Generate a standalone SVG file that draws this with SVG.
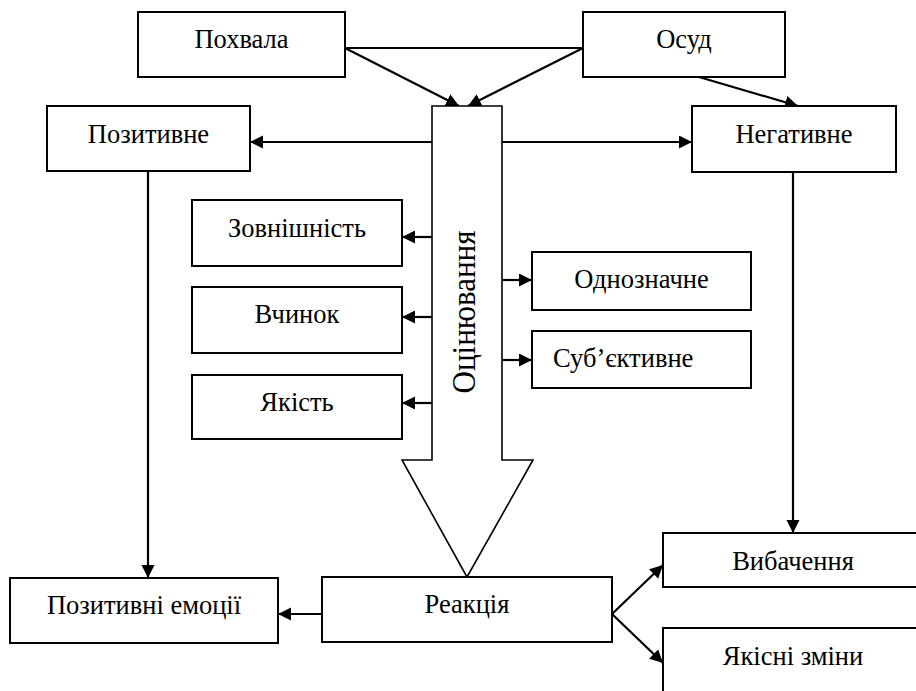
<svg xmlns="http://www.w3.org/2000/svg" width="916" height="691" viewBox="0 0 916 691" font-family="'Liberation Serif', 'Times New Roman', serif">
<style>
.box{fill:#fff;stroke:#000;stroke-width:2}
text{font-family:'Liberation Serif','Times New Roman',serif}
.t{font-size:26.5px;fill:#000;text-anchor:middle}
.c{fill:none;stroke:#000;stroke-width:2.2}
.a{marker-end:url(#ah)}
</style>
<defs>
<marker id="ah" markerUnits="userSpaceOnUse" markerWidth="14" markerHeight="14" refX="13" refY="6.5" orient="auto">
<path d="M0,0 L13,6.5 L0,13 Z" fill="#000"/>
</marker>
</defs>
<rect width="916" height="691" fill="#fff"/>
<g id="connectors">
<path class="c" d="M345,48 L583,48"/>
<path class="c a" d="M345,48 L459,106"/>
<path class="c a" d="M583,48 L468,106"/>
<path class="c a" d="M699,77 L798,106"/>
<path class="c a" d="M432,142 L250,142"/>
<path class="c a" d="M502,142 L692,142"/>
<path class="c a" d="M148,171 L148,578"/>
<path class="c a" d="M793,172 L793,533"/>
<path class="c a" d="M432,237 L402,237"/>
<path class="c a" d="M432,317 L402,317"/>
<path class="c a" d="M432,403 L402,403"/>
<path class="c a" d="M502,280 L532,280"/>
<path class="c a" d="M502,360 L532,360"/>
<path class="c a" d="M322,614 L278,614"/>
<path class="c a" d="M612,614 L663,565"/>
<path class="c a" d="M612,614 L663,663"/>
</g>
<g id="ocinyuvannya">
<polygon points="432,106 502,106 502,460 533,460 467,577 402,460 432,460" fill="#fff" stroke="#000" stroke-width="1.6"/>
<text class="t" style="font-size:34px" textLength="163" lengthAdjust="spacingAndGlyphs" transform="translate(475,312) rotate(-90)">Оцінювання</text>
</g>
<g id="pokhvala"><rect class="box" x="138" y="12" width="207" height="65"/><text class="t" x="241.5" y="48">Похвала</text></g>
<g id="osud"><rect class="box" x="583" y="12" width="202" height="65"/><text class="t" x="684" y="48">Осуд</text></g>
<g id="pozytyvne"><rect class="box" x="47" y="106" width="203" height="65"/><text class="t" x="148.5" y="143">Позитивне</text></g>
<g id="negatyvne"><rect class="box" x="692" y="106" width="204" height="66"/><text class="t" x="794" y="143">Негативне</text></g>
<g id="zovnishnist"><rect class="box" x="192" y="200" width="210" height="66"/><text class="t" x="297" y="237">Зовнішність</text></g>
<g id="vchynok"><rect class="box" x="192" y="287" width="210" height="66"/><text class="t" x="297" y="323">Вчинок</text></g>
<g id="yakist"><rect class="box" x="192" y="375" width="210" height="64"/><text class="t" x="297" y="411">Якість</text></g>
<g id="odnoznachne"><rect class="box" x="532" y="252" width="219" height="58"/><text class="t" x="641.5" y="288">Однозначне</text></g>
<g id="subyektyvne"><rect class="box" x="532" y="331" width="219" height="57"/><text class="t" x="553" y="367" style="text-anchor:start">Суб’єктивне</text></g>
<g id="pozytyvni-emotsii"><rect class="box" x="10" y="578" width="268" height="65"/><text class="t" x="144" y="614">Позитивні емоції</text></g>
<g id="reaktsiya"><rect class="box" x="322" y="577" width="290" height="65"/><text class="t" x="467" y="613">Реакція</text></g>
<g id="vybachennya"><rect class="box" x="663" y="533" width="270" height="54"/><text class="t" x="793" y="570">Вибачення</text></g>
<g id="yakisni-zminy"><rect class="box" x="663" y="628" width="270" height="80"/><text class="t" x="793" y="665">Якісні зміни</text></g>
</svg>
